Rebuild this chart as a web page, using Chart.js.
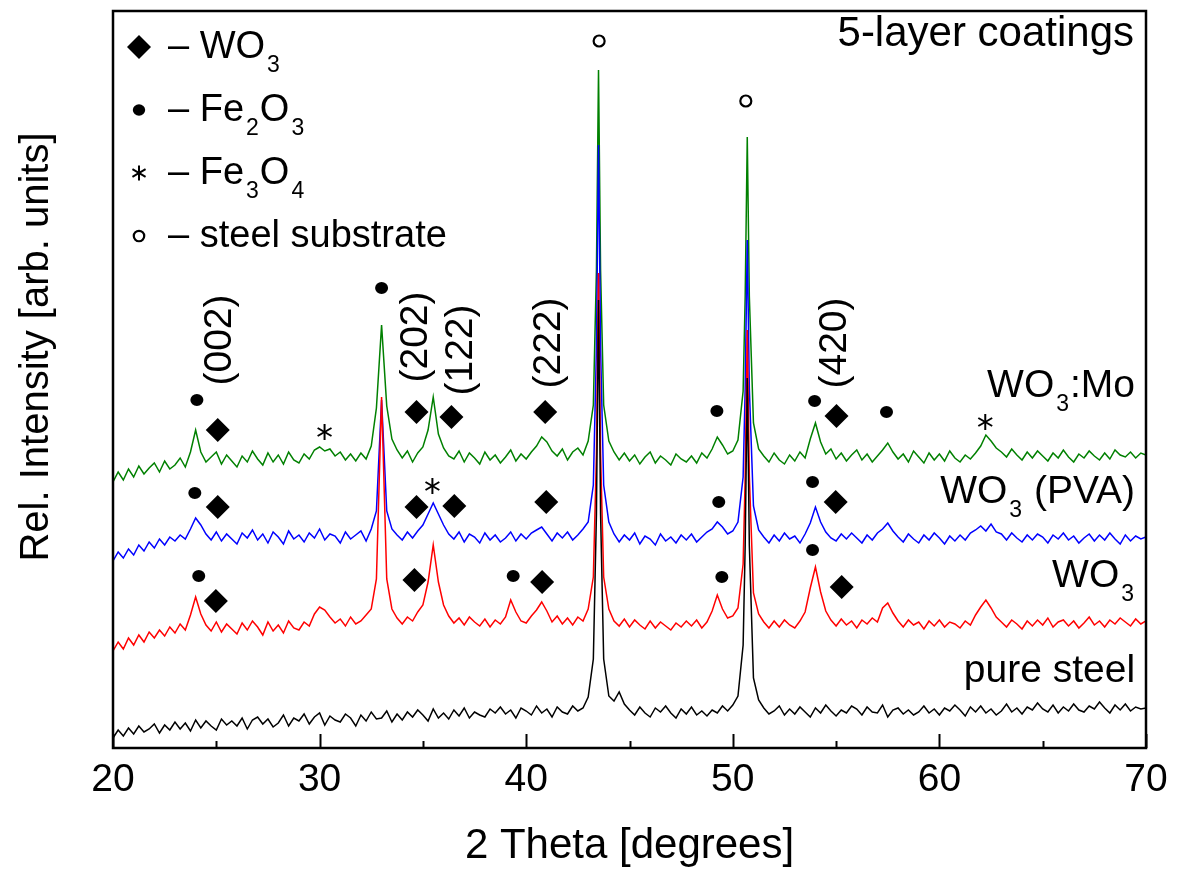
<!DOCTYPE html>
<html>
<head>
<meta charset="utf-8">
<script src="https://cdn.jsdelivr.net/npm/chart.js@4.4.0/dist/chart.umd.min.js"></script>
<style>
  html, body { margin: 0; padding: 0; background: #fff; }
</style>
</head>
<body>
<canvas id="xrd" width="1185" height="869"></canvas>
<script>
// === DATA (2 theta in degrees, intensity in arb. units) ===
const theta = [
  20, 20.25, 20.5, 20.75, 21, 21.25, 21.5, 21.75,
  22, 22.25, 22.5, 22.75, 23, 23.25, 23.5, 23.75,
  24, 24.25, 24.5, 24.75, 25, 25.25, 25.5, 25.75,
  26, 26.25, 26.5, 26.75, 27, 27.25, 27.5, 27.75,
  28, 28.25, 28.5, 28.75, 29, 29.25, 29.5, 29.75,
  30, 30.25, 30.5, 30.75, 31, 31.25, 31.5, 31.75,
  32, 32.25, 32.5, 32.75, 33, 33.25, 33.5, 33.75,
  34, 34.25, 34.5, 34.75, 35, 35.25, 35.5, 35.75,
  36, 36.25, 36.5, 36.75, 37, 37.25, 37.5, 37.75,
  38, 38.25, 38.5, 38.75, 39, 39.25, 39.5, 39.75,
  40, 40.25, 40.5, 40.75, 41, 41.25, 41.5, 41.75,
  42, 42.25, 42.5, 42.75, 43, 43.25, 43.4, 43.5, 43.6, 43.75,
  44, 44.25, 44.5, 44.75, 45, 45.25, 45.5, 45.75,
  46, 46.25, 46.5, 46.75, 47, 47.25, 47.5, 47.75,
  48, 48.25, 48.5, 48.75, 49, 49.25, 49.5, 49.75,
  50, 50.25, 50.5, 50.6, 50.7, 50.8, 51, 51.25, 51.5, 51.75,
  52, 52.25, 52.5, 52.75, 53, 53.25, 53.5, 53.75,
  54, 54.25, 54.5, 54.75, 55, 55.25, 55.5, 55.75,
  56, 56.25, 56.5, 56.75, 57, 57.25, 57.5, 57.75,
  58, 58.25, 58.5, 58.75, 59, 59.25, 59.5, 59.75,
  60, 60.25, 60.5, 60.75, 61, 61.25, 61.5, 61.75,
  62, 62.25, 62.5, 62.75, 63, 63.25, 63.5, 63.75,
  64, 64.25, 64.5, 64.75, 65, 65.25, 65.5, 65.75,
  66, 66.25, 66.5, 66.75, 67, 67.25, 67.5, 67.75,
  68, 68.25, 68.5, 68.75, 69, 69.25, 69.5, 69.75,
  70
];

const pureSteel = [
  10, 18, 12, 20, 14, 22, 16, 19,
  24, 15, 23, 18, 26, 19, 25, 17,
  28, 20, 27, 22, 18, 29, 23, 27,
  22, 30, 19, 28, 31, 24, 29, 21,
  25, 33, 22, 30, 27, 34, 24, 31,
  35, 23, 32, 28, 26, 34, 30, 22,
  33, 27, 36, 29, 30, 37, 26, 34,
  28, 36, 31, 38, 33, 27, 39, 30,
  35, 29, 38, 32, 40, 30, 36, 33,
  31, 39, 35, 41, 34, 38, 30, 40,
  37, 33, 42, 35, 39, 31, 41, 36,
  34, 42, 37, 40, 51, 89, 234, 448, 234, 89,
  52, 47, 56, 44, 38, 33, 41, 35,
  31, 40, 36, 42, 35, 30, 39, 34,
  41, 33, 37, 32, 38, 35, 42, 37,
  43, 52, 103, 203, 370, 203, 70, 48, 40, 34,
  37, 42, 33, 39, 34, 41, 36, 31,
  40, 35, 43, 37, 32, 38, 35, 42,
  39, 33, 41, 36, 35, 43, 31, 38,
  40, 34, 38, 33, 36, 42, 35, 39,
  33, 40, 37, 43, 38, 32, 41, 36,
  42, 35, 39, 33, 37, 44, 36, 40,
  34, 41, 38, 45, 39, 36, 43, 35,
  41, 37, 44, 38, 36, 42, 39, 46,
  40, 35, 43, 38, 44, 37, 41, 39,
  40
];

const wo3 = [
  97, 106, 99, 110, 103, 113, 106, 116,
  110, 118, 112, 121, 115, 124, 118, 133,
  151, 134, 123, 117, 126, 116, 124, 119,
  114, 125, 118, 127, 121, 113, 126, 117,
  123, 115, 127, 120, 118, 126, 122, 134,
  141, 138, 131, 125, 129, 122, 131, 124,
  127, 133, 139, 169, 351, 169, 139, 130,
  124, 131, 127, 136, 143, 166, 203, 166,
  143, 132, 125, 130, 123, 131, 126, 122,
  129, 121, 128, 124, 131, 148, 136, 127,
  125, 132, 138, 146, 137, 126, 132, 124,
  130, 123, 131, 127, 139, 171, 294, 475, 294, 171,
  139, 127, 122, 129, 121, 128, 123, 119,
  127, 120, 126, 122, 118, 125, 121, 127,
  122, 128, 120, 126, 137, 153, 139, 130,
  132, 140, 184, 272, 418, 272, 155, 134, 126, 120,
  127, 121, 128, 123, 120, 127, 136, 160,
  181, 156, 137, 128, 122, 129, 123, 127,
  120, 128, 124, 130, 126, 140, 145, 135,
  127, 121, 128, 123, 126, 119, 127, 122,
  128, 121, 126, 124, 120, 127, 123, 133,
  141, 148, 140, 131, 126, 121, 128, 124,
  119, 127, 122, 128, 123, 130, 121, 126,
  128, 122, 127, 120, 125, 131, 123, 127,
  121, 128, 124, 130, 126, 122, 129, 124,
  127
];

const wo3Pva = [
  187, 196, 190, 199, 193, 203, 197, 206,
  200, 209, 203, 211, 207, 213, 209, 219,
  230, 223, 214, 208, 216, 207, 214, 209,
  204, 215, 210, 218, 208, 214, 205, 216,
  211, 204, 217, 209, 213, 206, 215, 210,
  219, 208, 214, 212, 205, 216, 209, 213,
  217, 207, 219, 237, 348, 237, 219, 213,
  208, 216, 210, 217, 223, 234, 245, 234,
  223, 214, 209, 216, 206, 214, 211, 205,
  215, 208, 213, 206, 210, 216, 207, 214,
  209, 215, 218, 221, 214, 207, 215, 210,
  216, 208, 213, 219, 226, 263, 400, 603, 400, 263,
  226, 214, 206, 213, 208, 215, 204, 212,
  209, 203, 214, 207, 211, 205, 213, 208,
  214, 206, 211, 216, 219, 226, 221, 214,
  217, 226, 271, 360, 508, 360, 242, 218, 211, 205,
  213, 207, 215, 209, 212, 205, 214, 225,
  241, 226, 216, 210, 207, 214, 209, 215,
  210, 205, 213, 208, 215, 219, 225, 217,
  211, 206, 214, 209, 205, 213, 208, 215,
  210, 204, 212, 207, 213, 208, 215, 218,
  222, 217, 224, 216, 214, 208, 215, 210,
  206, 213, 208, 214, 211, 205, 213, 209,
  215, 208, 212, 205, 210, 214, 207, 213,
  208, 215, 209, 204, 213, 207, 212, 209,
  211
];

const wo3Mo = [
  266, 276, 268, 279, 271, 282, 274, 280,
  285, 276, 287, 279, 283, 290, 281, 296,
  318, 296, 286, 291, 296, 284, 293, 287,
  281, 292, 286, 297, 289, 283, 295, 286,
  293, 284, 296, 288, 285, 294, 289, 298,
  301, 297, 299, 292, 296, 288, 294, 287,
  295, 289, 302, 340, 423, 342, 309, 298,
  290, 297, 286, 295, 301, 318, 351, 314,
  300, 292, 289, 297, 286, 295, 290, 284,
  296, 288, 293, 285, 291, 298, 287, 294,
  289, 296, 302, 311, 306, 297, 292, 299,
  288, 296, 300, 293, 307, 343, 478, 678, 478, 343,
  307, 296, 288, 295, 287, 293, 284, 291,
  296, 285, 292, 288, 283, 294, 289, 286,
  292, 285, 295, 290, 299, 311, 303, 294,
  297, 308, 357, 452, 611, 452, 325, 299, 292, 286,
  295, 288, 284, 293, 287, 296, 290, 309,
  325, 306, 294, 299, 289, 295, 287, 293,
  298, 288, 294, 286, 292, 298, 305, 296,
  289, 294, 286, 297, 291, 285, 295, 288,
  294, 287, 297, 290, 286, 293, 289, 295,
  302, 313, 307, 300, 296, 291, 299, 293,
  288, 296, 290, 297, 292, 287, 295, 290,
  298, 291, 286, 294, 290, 297, 292, 288,
  295, 289, 298, 293, 291, 296, 290, 295,
  293
];

const xMajorTicks = [20, 30, 40, 50, 60, 70];
const xMinorTicks = [25, 35, 45, 55, 65];

// curve labels: [text parts, right edge theta, baseline intensity]; ['3'] = subscript
const curveLabels = [
  [['WO', ['3'], ':Mo'], 69.47, 351],
  [['WO', ['3'], ' (PVA)'], 69.47, 245],
  [['WO', ['3']], 69.47, 161],
  [['pure steel'], 69.47, 66]
];

// phase marks: [type, theta, intensity]
const phaseMarks = [
  ['dot', 24.06, 348], ['dia', 25.07, 318], ['star', 30.24, 316], ['dot', 33.0, 460],
  ['dia', 34.69, 336], ['dia', 36.38, 331], ['dia', 40.92, 336], ['dot', 49.23, 337],
  ['dot', 53.96, 347], ['dia', 55.02, 332], ['dot', 57.44, 336], ['star', 62.22, 326],
  ['ring', 43.53, 707], ['ring', 50.63, 647],
  ['dot', 23.96, 255], ['dia', 25.07, 241], ['dia', 34.69, 241], ['star', 35.46, 262],
  ['dia', 36.52, 242], ['dia', 40.97, 246], ['dot', 49.32, 246], ['dot', 53.86, 266],
  ['dia', 54.98, 246],
  ['dot', 24.15, 172], ['dia', 24.98, 147], ['dia', 34.59, 168], ['dot', 39.37, 172],
  ['dia', 40.77, 166], ['dot', 49.47, 171], ['dot', 53.86, 198], ['dia', 55.27, 161]
];

// Miller indices of WO3: [text, theta, intensity at text centre]
const millerLabels = [
  ['(002)', 25.17, 408], ['(202)', 34.69, 411], ['(122)', 36.86, 398],
  ['(222)', 41.11, 405], ['(420)', 54.98, 405]
];

const legendRows = [
  ['dia', ['– WO', ['3']]],
  ['dot', ['– Fe', ['2'], 'O', ['3']]],
  ['star', ['– Fe', ['3'], 'O', ['4']]],
  ['ring', ['– steel substrate']]
];

const FONT = '"Liberation Sans", Arial, Helvetica, sans-serif';

// === HELPERS ===
function drawRich(ctx, parts, x, y, size, align) {
  const subSize = Math.round(size * 0.6);
  let total = 0;
  const pieces = parts.map(p => {
    const isSub = Array.isArray(p);
    const txt = isSub ? p[0] : p;
    ctx.font = (isSub ? subSize : size) + 'px ' + FONT;
    const w = ctx.measureText(txt).width + (isSub ? 3 : 0);
    total += w;
    return { txt, isSub, w };
  });
  let cx = align === 'right' ? x - total : x;
  ctx.textAlign = 'left';
  ctx.textBaseline = 'alphabetic';
  pieces.forEach(pc => {
    ctx.font = (pc.isSub ? subSize : size) + 'px ' + FONT;
    ctx.fillText(pc.txt, cx + (pc.isSub ? 2 : 0), y + (pc.isSub ? Math.round(size * 0.36) : 0));
    cx += pc.w;
  });
}

function drawMark(ctx, type, x, y, s) {
  s = s || 1;
  ctx.save();
  ctx.fillStyle = '#000';
  ctx.strokeStyle = '#000';
  if (type === 'dia') {
    ctx.beginPath();
    ctx.moveTo(x, y - 12 * s); ctx.lineTo(x + 12 * s, y);
    ctx.lineTo(x, y + 12 * s); ctx.lineTo(x - 12 * s, y);
    ctx.closePath(); ctx.fill();
  } else if (type === 'dot') {
    ctx.beginPath(); ctx.ellipse(x, y, 6.5 * s, 6 * s, 0, 0, 2 * Math.PI); ctx.fill();
  } else if (type === 'ring') {
    ctx.lineWidth = 2.2;
    ctx.beginPath(); ctx.arc(x, y, 5.5 * s, 0, 2 * Math.PI); ctx.stroke();
  } else if (type === 'star') {
    ctx.lineWidth = 2;
    [90, 30, -30].forEach(a => {
      const r = a * Math.PI / 180, l = 8 * s;
      ctx.beginPath();
      ctx.moveTo(x - l * Math.cos(r), y - l * Math.sin(r));
      ctx.lineTo(x + l * Math.cos(r), y + l * Math.sin(r));
      ctx.stroke();
    });
  }
  ctx.restore();
}

// frame, inward ticks, titles, legend and marks
const decorations = {
  id: 'decorations',
  afterDraw(chart) {
    const { ctx, chartArea: a, scales: { x, y } } = chart;
    ctx.save();
    ctx.strokeStyle = '#000';
    ctx.lineWidth = 2.5;
    ctx.strokeRect(a.left, a.top, a.right - a.left, a.bottom - a.top);
    ctx.lineWidth = 2;
    xMajorTicks.forEach(t => {
      const px = Math.round(x.getPixelForValue(t)) + 0.5;
      ctx.beginPath(); ctx.moveTo(px, a.bottom); ctx.lineTo(px, a.bottom - 14); ctx.stroke();
    });
    xMinorTicks.forEach(t => {
      const px = Math.round(x.getPixelForValue(t)) + 0.5;
      ctx.beginPath(); ctx.moveTo(px, a.bottom); ctx.lineTo(px, a.bottom - 7); ctx.stroke();
    });

    ctx.fillStyle = '#000';
    // axis titles
    ctx.textAlign = 'center';
    ctx.textBaseline = 'middle';
    ctx.font = '42px ' + FONT;
    ctx.fillText('2 Theta [degrees]', (a.left + a.right) / 2, 846);
    ctx.save();
    ctx.font = '40px ' + FONT;
    ctx.translate(37, 347);
    ctx.rotate(-Math.PI / 2);
    ctx.fillText('Rel. Intensity [arb. units]', 0, 0);
    ctx.restore();

    // legend box content
    legendRows.forEach((row, i) => {
      const base = a.top + 47 + i * 63;
      drawMark(ctx, row[0], a.left + 26, base - 11, row[0] === 'dia' ? 1 : 0.95);
      ctx.fillStyle = '#000';
      drawRich(ctx, row[1], a.left + 55, base, 38, 'left');
    });
    ctx.font = '42px ' + FONT;
    ctx.textAlign = 'right';
    ctx.textBaseline = 'alphabetic';
    ctx.fillText('5-layer coatings', a.right - 12, a.top + 35);

    // curve labels
    curveLabels.forEach(([parts, t, v]) => {
      drawRich(ctx, parts, x.getPixelForValue(t), y.getPixelForValue(v), 39, 'right');
    });

    // phase marks
    phaseMarks.forEach(([type, t, v]) => drawMark(ctx, type, x.getPixelForValue(t), y.getPixelForValue(v)));

    // Miller indices, rotated
    ctx.font = '39px ' + FONT;
    millerLabels.forEach(([txt, t, v]) => {
      ctx.save();
      ctx.translate(x.getPixelForValue(t), y.getPixelForValue(v));
      ctx.rotate(-Math.PI / 2);
      ctx.textAlign = 'center';
      ctx.textBaseline = 'middle';
      ctx.fillText(txt, 0, 0);
      ctx.restore();
    });
    ctx.restore();
  }
};

const toPoints = arr => arr.map((v, i) => ({ x: theta[i], y: v }));

new Chart(document.getElementById('xrd'), {
  type: 'line',
  data: {
    datasets: [
      { label: 'pure steel', data: toPoints(pureSteel), borderColor: '#000000' },
      { label: 'WO3', data: toPoints(wo3), borderColor: '#ff0000' },
      { label: 'WO3 (PVA)', data: toPoints(wo3Pva), borderColor: '#0000ff' },
      { label: 'WO3:Mo', data: toPoints(wo3Mo), borderColor: '#008000' }
    ]
  },
  options: {
    responsive: false,
    animation: false,
    layout: { padding: { top: 11, right: 39, left: 0, bottom: 0 } },
    elements: {
      point: { radius: 0 },
      line: { borderWidth: 1.5, tension: 0, fill: false }
    },
    plugins: { legend: { display: false }, tooltip: { enabled: false } },
    scales: {
      x: {
        type: 'linear', min: 20, max: 70,
        grid: { display: false, drawTicks: false },
        border: { display: false },
        ticks: {
          stepSize: 10, autoSkip: false, maxRotation: 0, padding: 9,
          color: '#000', font: { family: FONT, size: 39 }
        },
        afterFit: s => { s.height = 121; }
      },
      y: {
        min: 0, max: 737,
        grid: { display: false, drawTicks: false },
        border: { display: false },
        ticks: { display: false },
        afterFit: s => { s.width = 113; }
      }
    }
  },
  plugins: [decorations]
});
</script>
</body>
</html>
